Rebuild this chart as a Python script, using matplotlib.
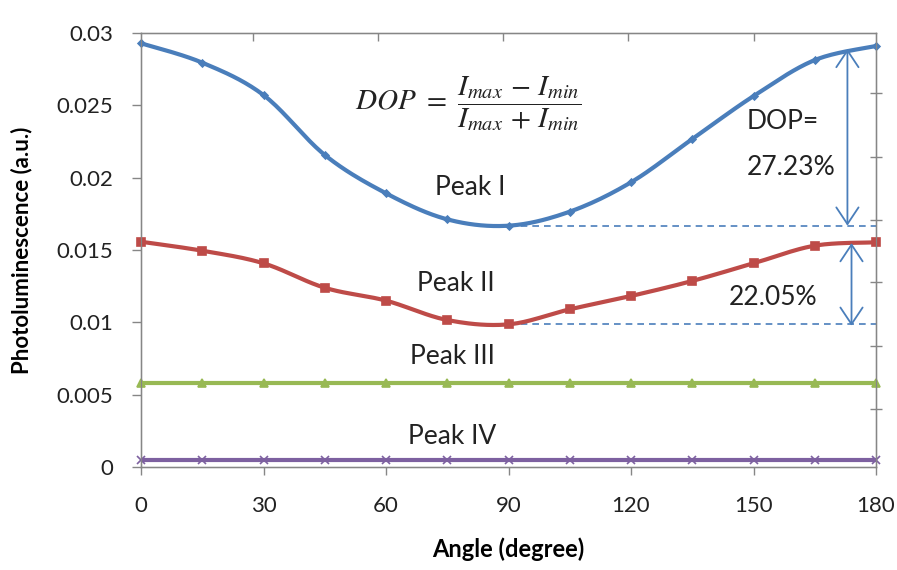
import numpy as np
import matplotlib
matplotlib.use("Agg")
import matplotlib.pyplot as plt

# ---- data ----
angles = [0, 15, 30, 45, 60, 75, 90, 105, 120, 135, 150, 165, 180]
peak1 = [0.02929, 0.02795, 0.02571, 0.02157, 0.01892, 0.01712, 0.01668,
         0.01765, 0.01968, 0.02267, 0.02564, 0.02813, 0.02910]
peak2 = [0.01557, 0.01495, 0.01408, 0.01239, 0.01150, 0.01016, 0.00986,
         0.01090, 0.01182, 0.01286, 0.01408, 0.01530, 0.01553]
peak3 = [0.0058] * 13
peak4 = [0.0005] * 13
x_ticks = [0, 30, 60, 90, 120, 150, 180]
y_ticks = [0, 0.005, 0.01, 0.015, 0.02, 0.025, 0.03]
y_tick_labels = ["0", "0.005", "0.01", "0.015", "0.02", "0.025", "0.03"]
dop1_label = "DOP="
dop1_value = "27.23%"
dop2_label = "22.05%"

plt.rcParams['font.family'] = ['Lato', 'DejaVu Sans']
plt.rcParams['mathtext.fontset'] = 'stix'


def smooth(x, y, n=20):
    """Catmull-Rom rendering of a smoothed line through the points (like Excel)."""
    x = np.asarray(x, float)
    y = np.asarray(y, float)
    P = np.column_stack([x, y])
    P = np.vstack([P[0], P, P[-1]])
    out = []
    t = np.linspace(0, 1, n, endpoint=False)[:, None]
    for i in range(1, len(P) - 2):
        p0, p1, p2, p3 = P[i - 1], P[i], P[i + 1], P[i + 2]
        seg = 0.5 * ((2 * p1) + (-p0 + p2) * t + (2 * p0 - 5 * p1 + 4 * p2 - p3) * t ** 2
                     + (-p0 + 3 * p1 - 3 * p2 + p3) * t ** 3)
        out.append(seg)
    out.append(P[-2][None, :])
    out = np.vstack(out)
    return out[:, 0], out[:, 1]


fig = plt.figure(figsize=(8.97, 5.70), dpi=100)
ax = fig.add_axes([0.1572, 0.1807, 0.9766 - 0.1572, 0.9421 - 0.1807])

c_blue = '#4a7ebb'
c_red = '#be4b48'
c_green = '#98b954'
c_purple = '#7d60a0'

series = [
    (peak1, c_blue, 'D', 3.5),
    (peak2, c_red, 's', 5.5),
    (peak3, c_green, '^', 5.5),
    (peak4, c_purple, 'x', 6),
]
for ys, col, mk, ms in series:
    sx, sy = smooth(angles, ys)
    ax.plot(sx, sy, color=col, lw=3.0, solid_capstyle='round', zorder=3)
    ax.plot(angles, ys, linestyle='none', marker=mk, color=col, ms=ms,
            mew=1.2, zorder=4, clip_on=False)

ax.set_xlim(0, 180)
ax.set_ylim(0, 0.03)
ax.set_xticks(x_ticks)
ax.set_yticks(y_ticks)
ax.set_yticklabels(y_tick_labels)

spine_col = '#868686'
for s in ax.spines.values():
    s.set_color(spine_col)
    s.set_linewidth(1.0)
ax.tick_params(axis='both', colors=spine_col, labelcolor='#222222', labelsize=16,
               width=1.0, direction='out')
ax.tick_params(axis='x', pad=15, length=6)
ax.tick_params(axis='y', pad=13.5, length=6.5)

# secondary tick marks (top & right)
axr = ax.twinx()
axr.set_ylim(0, 0.03)
axr.set_yticks([0.02585, 0.02143, 0.01707, 0.01279, 0.00836, 0.00401])
axr.tick_params(axis='y', colors=spine_col, labelright=False, length=8,
                direction='inout', width=1.0)
axt = ax.twiny()
axt.set_xlim(0, 180)
axt.set_xticks([27.4, 58.0, 88.7, 119.3, 150.1])
axt.tick_params(axis='x', colors=spine_col, labeltop=False, length=6,
                direction='in', width=1.0)
for a in (axr, axt):
    for s in a.spines.values():
        s.set_color(spine_col)

ax.set_xlabel('Angle (degree)', fontsize=17, fontweight='bold')
ax.set_ylabel('Photoluminescence (a.u.)', fontsize=16, fontweight='bold')
ax.xaxis.set_label_coords(0.5, -0.163)
ax.yaxis.set_label_coords(-0.148, 0.5)

# dashed reference lines and DOP arrows
min1, max1 = min(peak1), max(peak1)
min2, max2 = min(peak2), max(peak2)
ax.plot([90, 180], [min1, min1], ls=(0, (4, 3)), color=c_blue, lw=1.2, zorder=2)
ax.plot([90, 180], [min2, min2], ls=(0, (4, 3)), color=c_blue, lw=1.2, zorder=2)

astyle = dict(arrowstyle='<->,head_length=0.6,head_width=0.4', color=c_blue, lw=1.3,
              shrinkA=0, shrinkB=0, mutation_scale=20)
ax.annotate('', xy=(173.0, min1), xytext=(173.0, 0.0289), arrowprops=astyle, zorder=5)
ax.annotate('', xy=(174.0, min2 - 0.0001), xytext=(174.0, 0.01548), arrowprops=astyle, zorder=5)

tc = '#222222'
fs = 19
ax.text(148.4, 0.02385, dop1_label, fontsize=fs, color=tc, ha='left', va='center')
ax.text(148.4, 0.02067, dop1_value, fontsize=fs, color=tc, ha='left', va='center')
ax.text(144.0, 0.01175, dop2_label, fontsize=fs, color=tc, ha='left', va='center')
ax.text(80.6, 0.01935, 'Peak I', fontsize=fs, color=tc, ha='center', va='center')
ax.text(77.1, 0.01265, 'Peak II', fontsize=fs, color=tc, ha='center', va='center')
ax.text(76.2, 0.00767, 'Peak III', fontsize=fs, color=tc, ha='center', va='center')
ax.text(76.2, 0.00214, 'Peak IV', fontsize=fs, color=tc, ha='center', va='center')
ax.text(80.2, 0.0251, r'$DOP\ =\ \dfrac{I_{max}\,-\,I_{min}}{I_{max}\,+\,I_{min}}$', fontsize=21,
        color=tc, ha='center', va='center')

fig.savefig('out.png', dpi=100)
